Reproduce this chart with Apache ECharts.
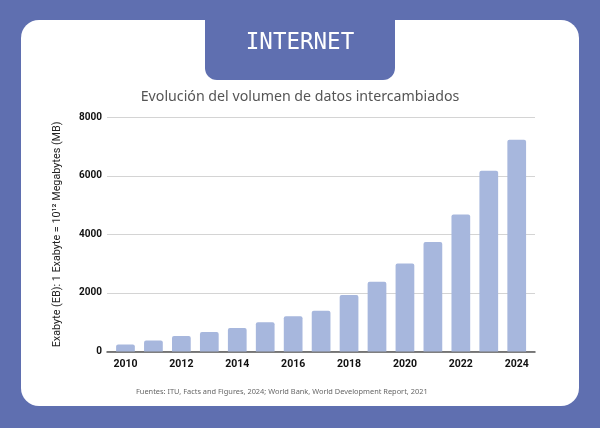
<!DOCTYPE html>
<html>
<head>
<meta charset="utf-8">
<script src="https://cdn.jsdelivr.net/npm/echarts@6/dist/echarts.min.js"></script>
<style>
html,body{margin:0;padding:0;background:#5f6fb0;}
#c{width:600px;height:428px;}
</style>
</head>
<body>
<div id="c"></div>
<script>
const years = ['2010','2011','2012','2013','2014','2015','2016','2017','2018','2019','2020','2021','2022','2023','2024'];
const volumes = [240, 380, 530, 670, 800, 1000, 1200, 1390, 1930, 2380, 3010, 3740, 4680, 6170, 7230];
const yTicks = [0, 2000, 4000, 6000, 8000];
const headerText = 'INTERNET';
const chartTitle = 'Evolución del volumen de datos intercambiados';
const yName = 'Exabyte (EB): 1 Exabyte = 10¹² Megabytes (MB)';
const sourceText = 'Fuentes: ITU, Facts and Figures, 2024; World Bank, World Development Report, 2021';

const chart = echarts.init(document.getElementById('c'));
const yMax = yTicks[yTicks.length - 1];
const yStep = yTicks[1] - yTicks[0];
chart.setOption({
  backgroundColor: '#5f6fb0',
  animation: false,
  graphic: [
    { type: 'rect', z: -10, shape: { x: 21, y: 20, width: 558, height: 386, r: 18 }, style: { fill: '#ffffff' } },
    { type: 'rect', z: -9, shape: { x: 205, y: 19, width: 190, height: 61, r: [0, 0, 12, 12] }, style: { fill: '#5f6fb0' } },
    { type: 'text', z: -8, style: { x: 300, y: 43, text: headerText, fill: '#ffffff', font: '22.5px "DejaVu Sans Mono"', align: 'center', verticalAlign: 'middle' } },
    { type: 'text', z: -8, style: { x: 300, y: 97, text: chartTitle, fill: '#555555', font: '14.2px "Noto Sans"', align: 'center', verticalAlign: 'middle' } },
    { type: 'text', z: -8, style: { x: 136, y: 392, text: sourceText, fill: '#666666', font: '7.4px "Noto Sans"', align: 'left', verticalAlign: 'middle' } }
  ],
  grid: [
    { left: 107, right: 65, top: 117.3, bottom: 76.5 },
    { left: 111.5, right: 69.3, top: 117.3, bottom: 76.5 }
  ],
  xAxis: [
    { gridIndex: 0, type: 'value', min: 0, max: 1, axisLine: { show: true, onZero: false, lineStyle: { color: '#555555', width: 1.5 } },
      axisTick: { show: false }, axisLabel: { show: false }, splitLine: { show: false } },
    { gridIndex: 1, type: 'category', data: years, boundaryGap: true,
      axisLine: { show: false }, axisTick: { show: false },
      axisLabel: { interval: 1, color: '#111111', fontFamily: 'Roboto', fontWeight: 'bold', fontSize: 10.5, margin: 7 } }
  ],
  yAxis: [
    { gridIndex: 0, type: 'value', min: 0, max: yMax, interval: yStep,
      name: yName, nameLocation: 'middle', nameGap: 44,
      nameTextStyle: { color: '#222222', fontFamily: 'Roboto', fontSize: 10.8 },
      axisLine: { show: false }, axisTick: { show: false },
      axisLabel: { color: '#111111', fontFamily: 'Roboto', fontWeight: 'bold', fontSize: 10, margin: 5, formatter: v => String(v) },
      splitLine: { show: true, lineStyle: { color: '#d4d4d4', width: 1 } } },
    { gridIndex: 1, type: 'value', min: 0, max: yMax, interval: yStep, show: false, splitLine: { show: false } }
  ],
  series: [{
    type: 'bar', xAxisIndex: 1, yAxisIndex: 1, data: volumes, barCategoryGap: '33%', z: 1,
    itemStyle: { color: '#a7b7dd', borderRadius: [2, 2, 0, 0] }
  }]
});
</script>
</body>
</html>
